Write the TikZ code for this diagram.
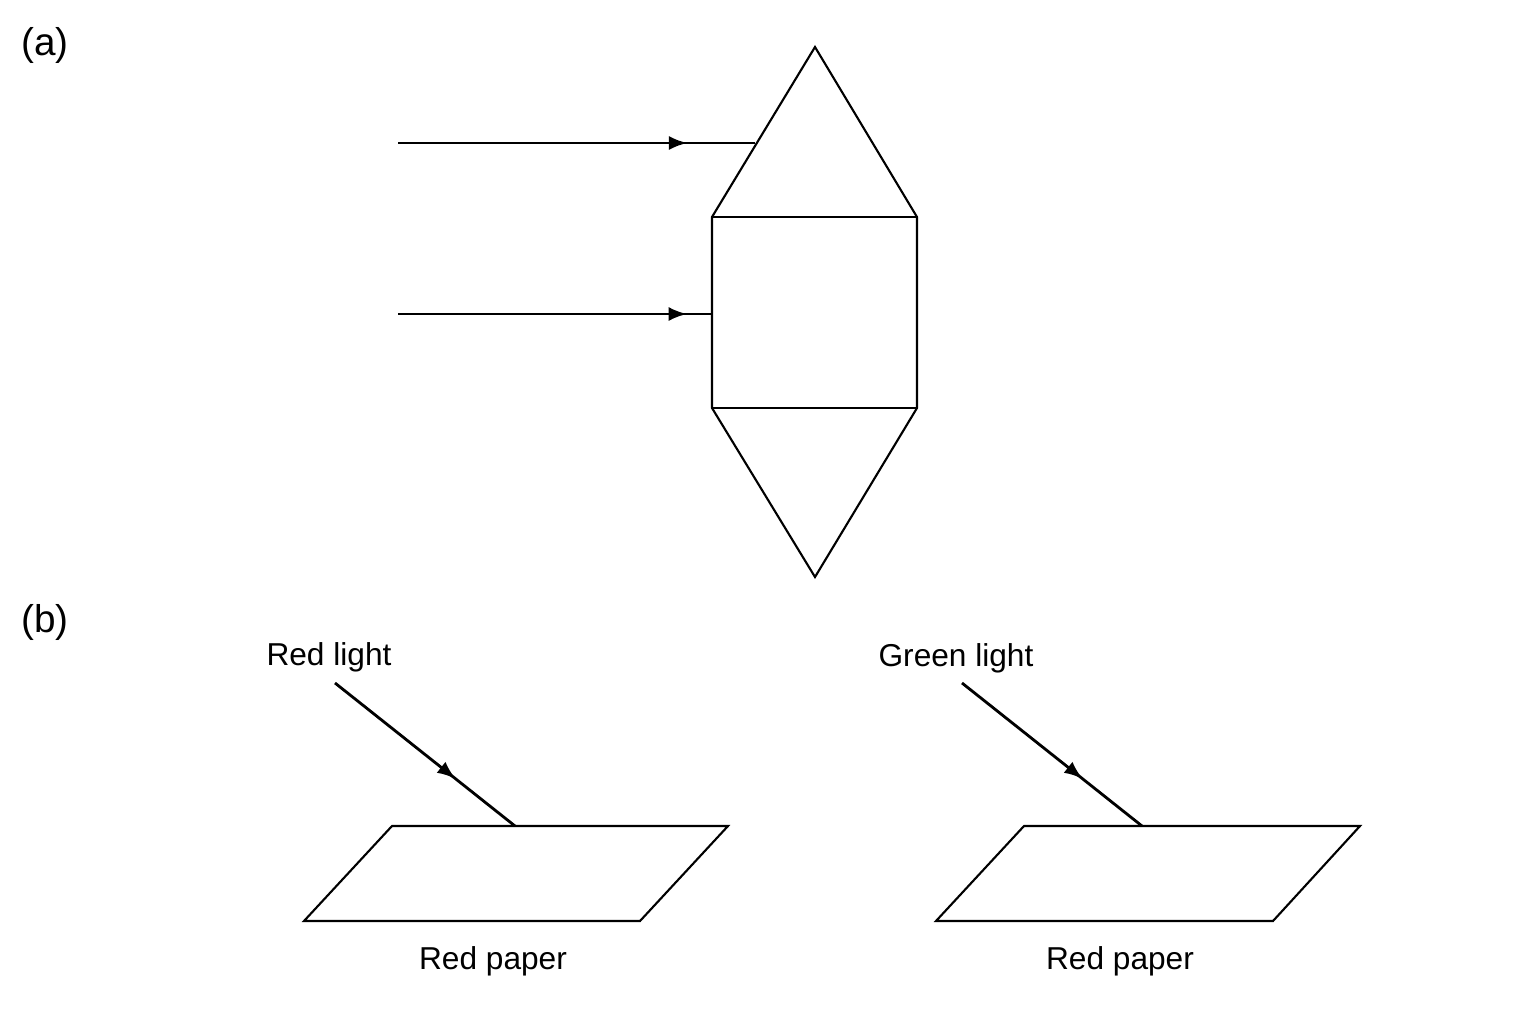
\documentclass[tikz,border=0pt]{standalone}
\usepackage{fontspec}
\setmainfont{Liberation Sans}
\usetikzlibrary{decorations.markings}
\tikzset{ray/.style = {thick, postaction = {decorate}, decoration = {markings, mark = at position #1 with {\arrow{latex}}}}}
\tikzset{lbl/.style = {font = \fontsize{9}{11}\selectfont, inner sep = 0}}
\tikzset{part/.style = {font = \fontsize{11}{13}\selectfont, inner sep = 0}}

\begin{document}
\begin{tikzpicture}[x=0.01cm, y=-0.01cm, line width=0.6pt]
    \useasboundingbox (0, 0) rectangle (1536, 1024);
    \node [part] (a) at (45, 45) {(a)};
    \node [part] (b) at (45, 622) {(b)};

    % prism
    \coordinate (top) at (815, 47);
    \coordinate (tl) at (712, 217);
    \coordinate (tr) at (917, 217);
    \coordinate (bl) at (712, 408);
    \coordinate (br) at (917, 408);
    \coordinate (bot) at (815, 577);
    \draw (top) -- (tr) -- (br) -- (bot) -- (bl) -- (tl) -- cycle;
    \draw (tl) -- (tr);
    \draw (bl) -- (br);

    \coordinate (s1) at (398, 143);
    \coordinate (e1) at (755, 143);
    \coordinate (s2) at (398, 314);
    \coordinate (e2) at (712, 314);
    \draw [ray = 0.81] (s1) -- (e1);
    \draw [ray = 0.92] (s2) -- (e2);

    % papers
    \draw (392, 826) coordinate (p1) -- (728, 826) -- (640, 921) -- (304, 921) -- cycle;
    \draw (1024, 826) coordinate (p2) -- (1360, 826) -- (1273, 921) -- (936, 921) -- cycle;
    \coordinate (h1) at (515, 826);
    \coordinate (h2) at (1142, 826);
    \coordinate (l1) at (335, 683);
    \coordinate (l2) at (962, 683);
    \draw [ray = 0.67] (l1) -- (h1);
    \draw [ray = 0.67] (l2) -- (h2);

    \node [lbl] (redlight) at (329, 657) {Red light};
    \node [lbl] (greenlight) at (956, 658) {Green light};
    \node [lbl] (paper1) at (493, 961) {Red paper};
    \node [lbl] (paper2) at (1120, 961) {Red paper};
\end{tikzpicture}
\end{document}
